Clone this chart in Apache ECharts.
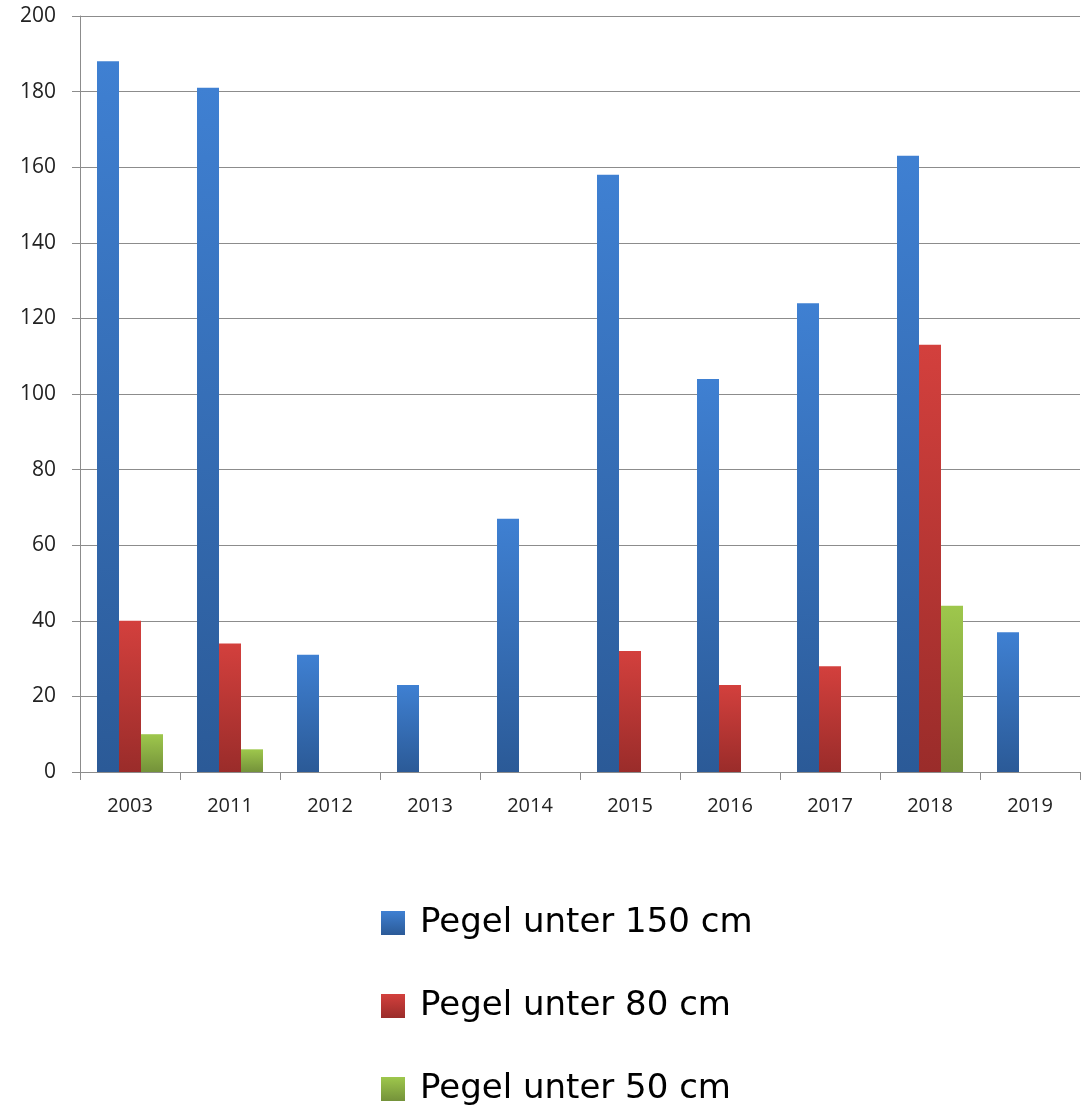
<!DOCTYPE html>
<html>
<head>
<meta charset="utf-8">
<script src="https://cdn.jsdelivr.net/npm/echarts@6/dist/echarts.min.js"></script>
<style>
  html, body { margin: 0; padding: 0; background: #fff; }
  #main { width: 1083px; height: 1115px; }
</style>
</head>
<body>
<div id="main"></div>
<script>
// Daten
var years = ['2003', '2011', '2012', '2013', '2014', '2015', '2016', '2017', '2018', '2019'];
var unter150 = [188, 181, 31, 23, 67, 158, 104, 124, 163, 37];
var unter80 = [40, 34, 0, 0, 0, 32, 23, 28, 113, 0];
var unter50 = [10, 6, 0, 0, 0, 0, 0, 0, 44, 0];
var seriesNames = ['Pegel unter 150 cm', 'Pegel unter 80 cm', 'Pegel unter 50 cm'];

function grad(top, bottom) {
  return new echarts.graphic.LinearGradient(0, 0, 0, 1, [
    { offset: 0, color: top },
    { offset: 1, color: bottom }
  ]);
}

// leere Werte nicht zeichnen
function clean(arr) {
  return arr.map(function (v) { return v === 0 ? '-' : v; });
}

// eine Legende pro Zeile, untereinander
var legendTops = [901, 984, 1067];
var legends = seriesNames.map(function (name, i) {
  return {
    left: 376,
    top: legendTops[i],
    icon: 'rect',
    itemWidth: 24,
    itemHeight: 24,
    data: [name],
    textStyle: {
      fontSize: 34,
      color: '#000',
      fontFamily: 'DejaVu Sans',
      padding: [0, 0, 0, 10]
    }
  };
});

var myChart = echarts.init(document.getElementById('main'));

var option = {
  animation: false,
  textStyle: { fontFamily: 'Open Sans' },
  grid: {
    left: 80,
    right: 3,
    top: 16,
    bottom: 343
  },
  legend: legends,
  xAxis: {
    type: 'category',
    data: years,
    axisLine: { lineStyle: { color: '#8c8c8c', width: 1 } },
    axisTick: { show: true, length: 8, lineStyle: { color: '#8c8c8c' } },
    axisLabel: { fontSize: 20, color: '#222', margin: 24 }
  },
  yAxis: {
    type: 'value',
    min: 0,
    max: 200,
    interval: 20,
    axisLine: { show: true, lineStyle: { color: '#8c8c8c', width: 1 } },
    axisTick: { show: true, length: 8, lineStyle: { color: '#8c8c8c' } },
    splitLine: { lineStyle: { color: '#8c8c8c', width: 1 } },
    axisLabel: { fontSize: 21, color: '#222', margin: 24 }
  },
  series: [
    {
      name: seriesNames[0],
      type: 'bar',
      barWidth: 22,
      barGap: '0%',
      data: clean(unter150),
      itemStyle: { color: grad('#3f80d2', '#2b5a97') }
    },
    {
      name: seriesNames[1],
      type: 'bar',
      barWidth: 22,
      barGap: '0%',
      data: clean(unter80),
      itemStyle: { color: grad('#d3403d', '#9a2c2a') }
    },
    {
      name: seriesNames[2],
      type: 'bar',
      barWidth: 22,
      barGap: '0%',
      data: clean(unter50),
      itemStyle: { color: grad('#9ec74c', '#74923a') }
    }
  ]
};

myChart.setOption(option);
</script>
</body>
</html>
